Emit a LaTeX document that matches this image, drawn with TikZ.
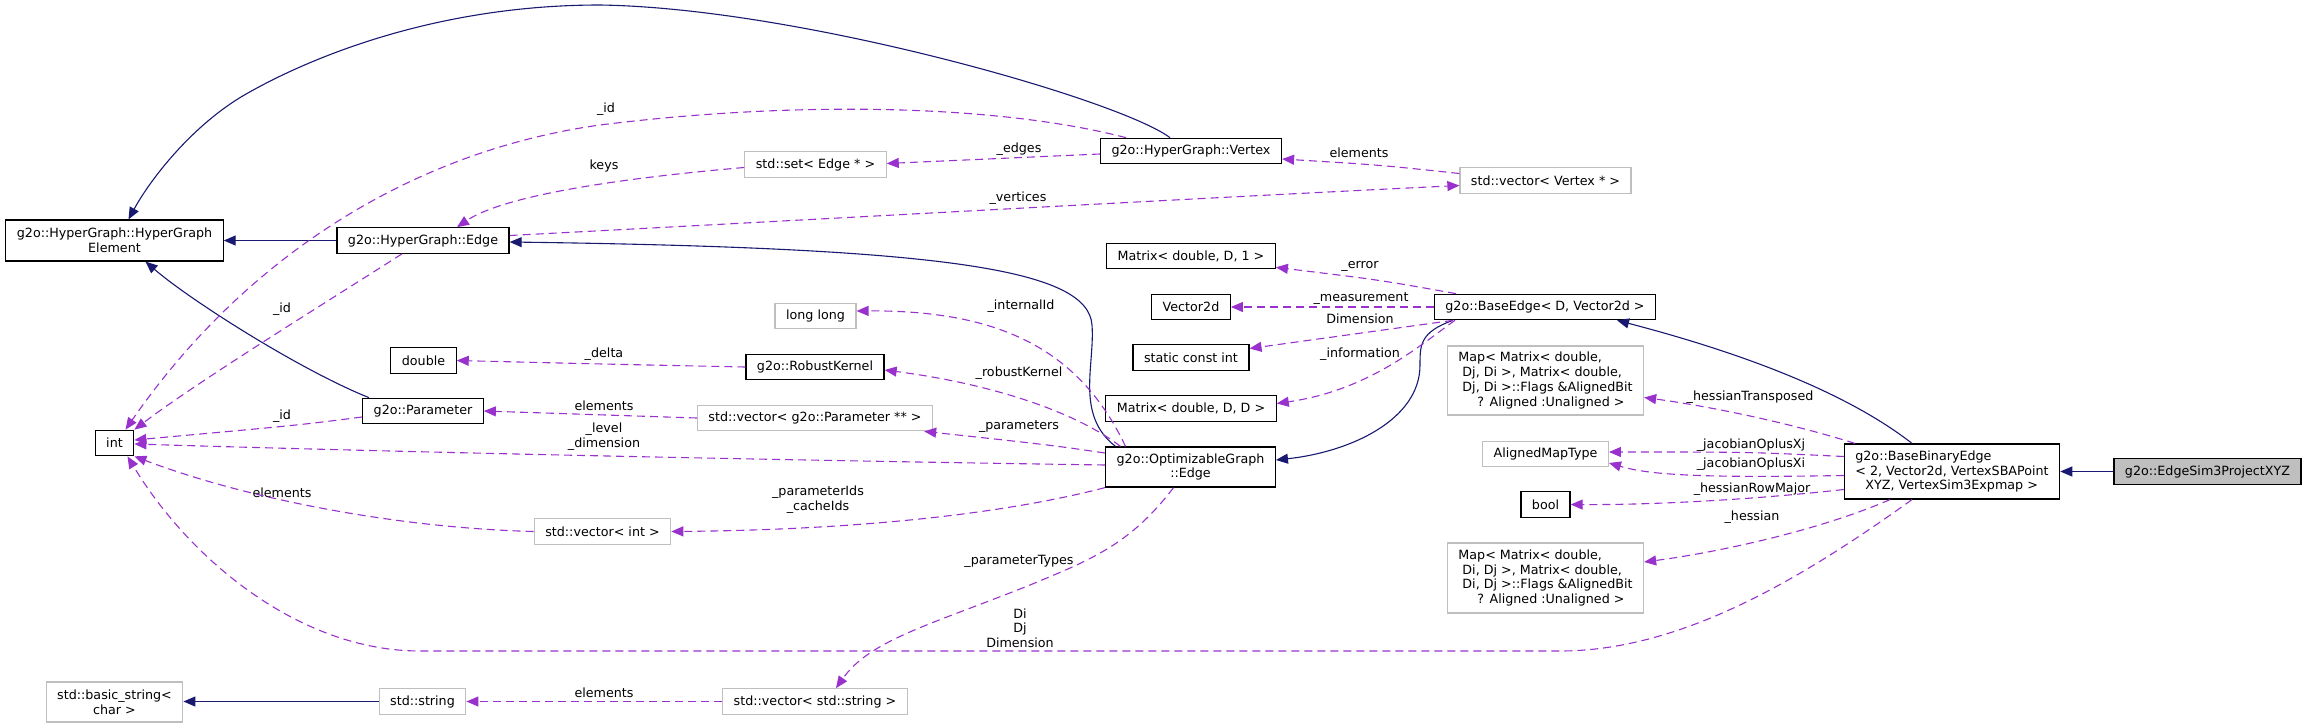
\documentclass[tikz,border=0pt]{standalone}
\usepackage{xcolor}
\usepackage{fontspec}
\setmainfont{DejaVu Sans}
\usepackage{tikz}
\usetikzlibrary{arrows.meta}

\definecolor{inhblue}{RGB}{25,25,112}
\definecolor{usepurple}{RGB}{153,50,204}
\definecolor{boxgray}{RGB}{191,191,191}

\begin{document}
\begin{tikzpicture}[
    x=1pt, y=-1pt,
    every node/.style={font=\fontsize{12.7}{14.7}\selectfont},
    cls/.style={
        rectangle,
        draw=black,
        line width=1.2pt,
        inner xsep=11pt,
        inner ysep=2pt,
        minimum height=25.5pt,
        align=center
    },
    ext/.style={cls, draw=boxgray},
    self/.style={cls, fill=boxgray},
    lbl/.style={inner sep=0pt, align=center},
    inh/.style={
        -{Triangle[length=12pt, width=10pt]},
        draw=inhblue,
        line width=1.1pt
    },
    use/.style={
        -{Triangle[length=12pt, width=10pt]},
        draw=usepurple,
        line width=1.1pt,
        dash pattern=on 8pt off 5pt
    }
]
\useasboundingbox (0,0) rectangle (2308,728);

% classes
\node (elem) [cls, minimum height=41pt] at (114.5,240.5) {g2o::HyperGraph::HyperGraph\\Element};
\node (hgedge) [cls] at (423,240.5) {g2o::HyperGraph::Edge};
\node (vertex) [cls] at (1191,151) {g2o::HyperGraph::Vertex};
\node (setedge) [ext] at (815.5,164.5) {std::set< Edge * >};
\node (vecvertex) [ext] at (1545.5,180.5) {std::vector< Vertex * >};
\node (intbox) [cls] at (114.5,443) {int};
\node (double) [cls] at (423.5,360.5) {double};
\node (param) [cls] at (423,411) {g2o::Parameter};
\node (longlong) [ext] at (815.5,316) {long long};
\node (robust) [cls] at (815,367) {g2o::RobustKernel};
\node (vecparam) [ext] at (815,418) {std::vector< g2o::Parameter ** >};
\node (vecint) [ext] at (602.5,531.5) {std::vector< int >};
\node (optedge) [cls, minimum height=40pt] at (1190.5,467) {g2o::OptimizableGraph\\::Edge};
\node (matd1) [cls] at (1191,256) {Matrix< double, D, 1 >};
\node (vec2d) [cls] at (1191,307) {Vector2d};
\node (sci) [cls] at (1191,357.5) {static const int};
\node (matdd) [cls] at (1191,408.5) {Matrix< double, D, D >};
\node (baseedge) [cls] at (1545,307) {g2o::BaseEdge< D, Vector2d >};
\node (maphtr) [ext, minimum height=69pt, align=left] at (1545.5,380.5) {Map< Matrix< double,\\\hspace*{4pt}Dj, Di >, Matrix< double,\\\hspace*{4pt}Dj, Di >::Flags \&AlignedBit\\\hspace*{19pt}? Aligned :Unaligned >};
\node (aligned) [ext] at (1545.5,454) {AlignedMapType};
\node (bool) [cls] at (1545.5,504.5) {bool};
\node (maph) [ext, minimum height=70pt, align=left] at (1545.5,578) {Map< Matrix< double,\\\hspace*{4pt}Di, Dj >, Matrix< double,\\\hspace*{4pt}Di, Dj >::Flags \&AlignedBit\\\hspace*{19pt}? Aligned :Unaligned >};
\node (binedge) [cls, minimum height=55pt, align=left] at (1952,471.5) {g2o::BaseBinaryEdge\\< 2, Vector2d, VertexSBAPoint\\\hspace*{10pt}XYZ, VertexSim3Expmap >};
\node (sim3) [self] at (2207.5,471.5) {g2o::EdgeSim3ProjectXYZ};
\node (basicstr) [ext, minimum height=40pt] at (114.5,702) {std::basic\_string<\\char >};
\node (stdstr) [ext] at (422.5,701.5) {std::string};
\node (vecstr) [ext] at (815,701.5) {std::vector< std::string >};

% labels
\node (lvid) [lbl] at (606,109) {\_id};
\node (lhid) [lbl] at (282,309) {\_id};
\node (lpid) [lbl] at (282,416) {\_id};
\node (llevel) [lbl] at (604,437) {\_level\\\_dimension};
\node (lielem) [lbl] at (282,493) {elements};
\node (ldims) [lbl] at (1020,628) {Di\\Dj\\Dimension};
\node (lhess) [lbl] at (1752,517) {\_hessian};
\node (lrowmaj) [lbl] at (1752,489) {\_hessianRowMajor};
\node (lxi) [lbl] at (1751,464) {\_jacobianOplusXi};
\node (lxj) [lbl] at (1751,445) {\_jacobianOplusXj};
\node (ltrans) [lbl] at (1750,397) {\_hessianTransposed};
\node (lerror) [lbl] at (1360,266) {\_error};
\node (lmeas) [lbl] at (1361,299) {\_measurement};
\node (ldim) [lbl] at (1360,319) {Dimension};
\node (linfo) [lbl] at (1360,354) {\_information};
\node (linternal) [lbl] at (1021,306) {\_internalId};
\node (lrobust) [lbl] at (1019,373) {\_robustKernel};
\node (lparams) [lbl] at (1019,427) {\_parameters};
\node (lparids) [lbl] at (818,500) {\_parameterIds\\\_cacheIds};
\node (lpartypes) [lbl] at (1019,561) {\_parameterTypes};
\node (ldelta) [lbl] at (604,354) {\_delta};
\node (lpelem) [lbl] at (604,406) {elements};
\node (ledges) [lbl] at (1019,149) {\_edges};
\node (lkeys) [lbl] at (604,166) {keys};
\node (lverts) [lbl] at (1018,198) {\_vertices};
\node (lvelem) [lbl] at (1359,153) {elements};
\node (lselem) [lbl] at (604,693) {elements};

% inheritance
\draw [inh] ([xshift=-21pt]vertex.north) .. controls (1120,100) and (800,8) .. (600,5)
    .. controls (420,5) and (290,68) .. (241,97)
    .. controls (190,128) and (150,180) .. ([xshift=14pt]elem.north);
\draw [inh] (hgedge.west) -- (elem.east);
\draw [inh] ([xshift=-54pt]param.north) .. controls (300,370) and (190,300) .. ([xshift=31pt]elem.south);
\draw [inh] ([xshift=-75pt]optedge.north) .. controls (1075,415) and (1095,365) .. (1092,325)
    .. controls (1088,270) and (950,248) .. ([yshift=-1.5pt]hgedge.east);
\draw [inh] ([xshift=-92pt]baseedge.south) .. controls (1420,332) and (1420,345) .. (1420,365)
    .. controls (1420,420) and (1350,452) .. ([yshift=7pt]optedge.east);
\draw [inh] ([xshift=-40pt]binedge.north) .. controls (1850,395) and (1750,355) .. ([xshift=72pt]baseedge.south);
\draw [inh] (sim3.west) -- (binedge.east);
\draw [inh] (stdstr.west) -- (stdstr.west -| basicstr.east);

% members
\draw [use] ([xshift=-65pt]vertex.north) .. controls (1000,105) and (800,100) .. (600,125)
    .. controls (420,150) and (250,250) .. ([xshift=11pt]intbox.north);
\draw [use] ([xshift=-21pt]hgedge.south) .. controls (330,300) and (200,380) .. (intbox.north east);
\draw [use] ([yshift=-6pt]param.west) .. controls (300,425) .. ([yshift=3pt]intbox.east);
\draw [use] ([yshift=2pt]optedge.west) .. controls (900,462) and (500,455) .. ([yshift=-1pt]intbox.east);
\draw [use] (vecint.west) .. controls (400,528) and (250,500) .. (intbox.south east);
\draw [use] ([xshift=-40pt]binedge.south) .. controls (1800,580) and (1680,651) .. (1560,651)
    -- (420,651) .. controls (300,651) and (190,560) .. ([xshift=13pt]intbox.south);
\draw [use] ([xshift=-62pt]binedge.south) .. controls (1820,530) and (1720,552) .. ([yshift=16pt]maph.east);
\draw [use] ([yshift=-18pt]binedge.west) .. controls (1750,500) and (1650,505) .. (bool.east);
\draw [use] ([yshift=-4pt]binedge.west) .. controls (1700,478) and (1650,475) .. ([yshift=-9pt]aligned.east);
\draw [use] ([yshift=15pt]binedge.west) .. controls (1750,452) .. ([yshift=2pt]aligned.east);
\draw [use] ([xshift=-97pt]binedge.north) .. controls (1780,420) and (1700,405) .. ([yshift=-17pt]maphtr.east);
\draw [use] ([xshift=-89pt]baseedge.north) .. controls (1380,280) .. ([yshift=2pt]matd1.south east);
\draw [use] (baseedge.west) -- (vec2d.east);
\draw [use] ([xshift=-92pt]baseedge.south) -- ([yshift=9pt]sci.east);
\draw [use] ([xshift=-90pt]baseedge.south) .. controls (1420,345) and (1370,390) .. ([yshift=5pt]matdd.east);
\draw [use] ([xshift=-65pt]optedge.north) .. controls (1080,350) and (1000,310) .. ([yshift=5pt]longlong.east);
\draw [use] ([xshift=-70pt]optedge.north) .. controls (1080,415) and (1000,385) .. ([yshift=-3pt]robust.east);
\draw [use] ([yshift=14pt]optedge.west) .. controls (1050,445) .. ([xshift=-9pt]vecparam.south east);
\draw [use] (optedge.south west) .. controls (1000,515) and (850,530) .. (vecint.east);
\draw [use] ([xshift=-17pt]optedge.south) .. controls (1130,545) and (1090,560) .. (1030,585)
    .. controls (930,625) and (870,640) .. ([xshift=21pt]vecstr.north);
\draw [use] (robust.west) .. controls (600,364) .. (double.east);
\draw [use] (vecparam.west) -- (param.east);
\draw [use] ([yshift=-3pt]vertex.west) -- ([yshift=1pt]setedge.east);
\draw [use] ([yshift=-3pt]setedge.west) .. controls (600,180) and (500,198) .. ([xshift=34pt]hgedge.north);
\draw [use] ([yshift=5pt]hgedge.east) .. controls (900,215) and (1200,198) .. ([yshift=-5pt]vecvertex.west);
\draw [use] ([yshift=7pt]vecvertex.west) .. controls (1380,165) .. ([yshift=-8pt]vertex.east);
\draw [use] (vecstr.west) -- (stdstr.east);

\end{tikzpicture}
\end{document}
